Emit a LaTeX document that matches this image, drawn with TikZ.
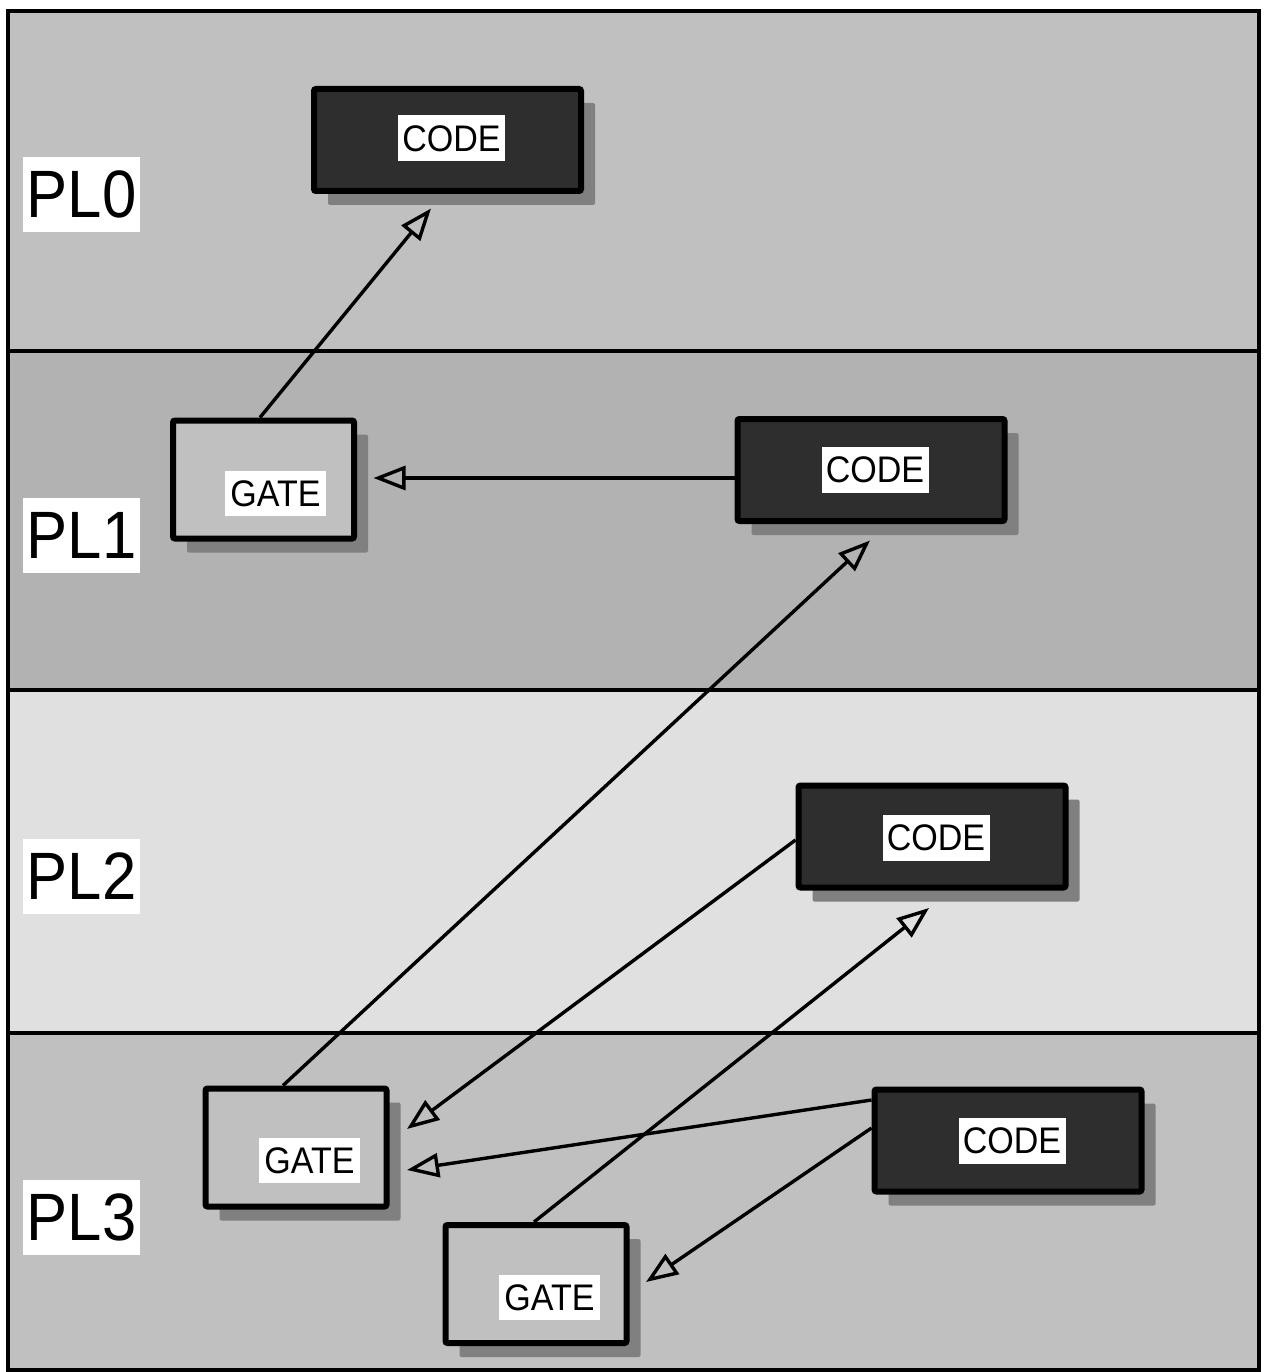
\documentclass[tikz,border=0pt]{standalone}
\usepackage{fontspec}
\setmainfont{Liberation Sans}
\usetikzlibrary{arrows.meta,shadows}
\definecolor{bandA}{HTML}{C0C0C0}
\definecolor{bandB}{HTML}{B2B2B2}
\definecolor{bandC}{HTML}{E0E0E0}
\definecolor{codefill}{HTML}{2E2E2E}
\definecolor{shadowgray}{HTML}{808080}
\tikzset{
  boxshadow/.style={drop shadow={shadow xshift=14pt, shadow yshift=-14pt, fill=shadowgray, opacity=1}},
  codebox/.style={draw=black, line width=6pt, fill=codefill, rounded corners=2pt, inner sep=0pt,
    minimum width=267pt, minimum height=102pt, boxshadow},
  gatebox/.style={draw=black, line width=6pt, fill=bandA, rounded corners=2pt, inner sep=0pt,
    minimum width=181pt, minimum height=118pt, boxshadow},
  boxlabel/.style={fill=white, inner sep=0pt, minimum width=107pt, minimum height=46pt,
    text depth=0pt, font=\fontsize{37}{40}\selectfont},
  levellabel/.style={fill=white, inner sep=0pt, minimum width=117pt, minimum height=75pt,
    text depth=0pt, font=\fontsize{67}{70}\selectfont},
  arr/.style={line width=3.4pt, -{Triangle[open, length=32pt, width=24pt]}},
  sep/.style={line width=4.5pt}
}
\newcommand{\sq}[1]{\scalebox{0.92}[1]{#1}}
\begin{document}
\begin{tikzpicture}[x=1pt,y=-1pt]
\useasboundingbox (0,0) rectangle (1263,1372);
% bands
\fill[bandA] (8,11) rectangle (1259,351);
\fill[bandB] (8,351) rectangle (1259,690);
\fill[bandC] (8,690) rectangle (1259,1033);
\fill[bandA] (8,1033) rectangle (1259,1370);
\draw[sep] (8,351) -- (1259,351);
\draw[sep] (8,690) -- (1259,690);
\draw[sep] (8,1033) -- (1259,1033);
\draw[line width=4.5pt] (8,11) rectangle (1259,1370);
% level labels
\node[levellabel] (pl0) at (81.5,194.5) {\sq{PL0}};
\node[levellabel] (pl1) at (81.5,535) {\sq{PL1}};
\node[levellabel] (pl2) at (81.5,876) {\sq{PL2}};
\node[levellabel] (pl3) at (81.5,1217) {\sq{PL3}};
% boxes
\node[codebox] (c0) at (447.5,140) {};
\node[codebox] (c1) at (871,470) {};
\node[codebox] (c2) at (932,836.5) {};
\node[codebox] (c3) at (1008,1140.5) {};
\node[gatebox] (g1) at (263.5,479.5) {};
\node[gatebox] (g3a) at (296,1147.5) {};
\node[gatebox] (g3b) at (536,1284) {};
% box labels
\node[boxlabel] (c0t) at (451.5,138.5) {\sq{CODE}};
\node[boxlabel] (c1t) at (875,470) {\sq{CODE}};
\node[boxlabel] (c2t) at (936,838) {\sq{CODE}};
\node[boxlabel] (c3t) at (1012,1141) {\sq{CODE}};
\node[boxlabel, minimum width=101pt, minimum height=45pt] (g1t) at (275.5,493.5) {\sq{GATE}};
\node[boxlabel, minimum width=101pt, minimum height=45pt] (g3at) at (309.5,1160.5) {\sq{GATE}};
\node[boxlabel, minimum width=101pt, minimum height=45pt] (g3bt) at (549.5,1297.5) {\sq{GATE}};
% connectors
\draw[arr] ([xshift=-3.5pt]g1.north) -- ([xshift=-16.5pt,yshift=-14.5pt]c0.south);
\draw[arr] ([yshift=-8pt]c1.west) -- ([xshift=16.5pt,yshift=1.5pt]g1.east);
\draw[arr] ([xshift=-13pt]g3a.north) -- ([xshift=-1pt,yshift=-16.5pt]c1.south);
\draw[arr] ([yshift=-3.5pt]c2.west) -- ([xshift=17.5pt,yshift=18.5pt]g3a.east);
\draw[arr] ([xshift=-2pt]g3b.north) -- ([xshift=-3pt,yshift=-17.5pt]c2.south);
\draw[arr] ([yshift=40.5pt]c3.west) -- ([xshift=17.5pt,yshift=-22.5pt]g3a.east);
\draw[arr] ([yshift=12.5pt]c3.west) -- ([xshift=16.5pt,yshift=2pt]g3b.east);
\end{tikzpicture}
\end{document}
